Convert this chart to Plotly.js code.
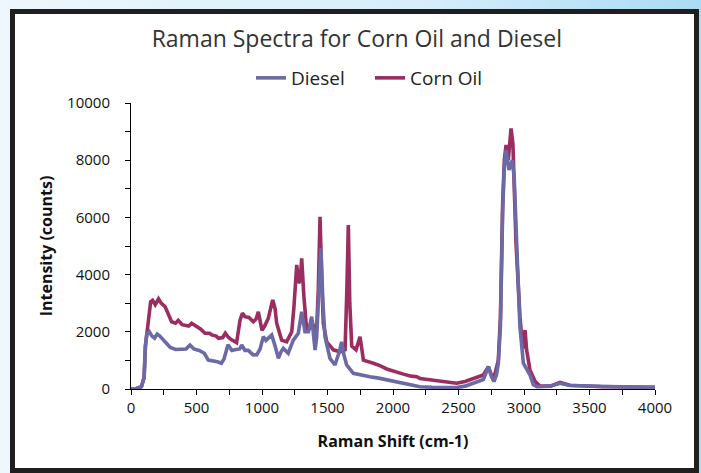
<!DOCTYPE html>
<html>
<head>
<meta charset="utf-8">
<script src="https://cdn.plot.ly/plotly-3.0.1.min.js"></script>
<style>
  html, body { margin: 0; padding: 0; }
  body { width: 701px; height: 473px; overflow: hidden;
         background: linear-gradient(to right, #eef7fc 0%, #d6eefa 60%, #a9dbf4 100%); }
  #chart { width: 701px; height: 473px; }
</style>
</head>
<body>
<div id="chart"></div>
<script>
// Raman shift (cm-1) and intensity (counts)
const dieselShift = [0, 40, 80, 100, 110, 120, 140, 160, 180, 200, 220, 260, 300, 340, 380, 420, 450, 480, 520, 560, 590, 630, 660, 690, 710, 740, 770, 800, 830, 845, 870, 895, 930, 960, 985, 1010, 1030, 1048, 1074, 1100, 1125, 1145, 1163, 1200, 1239, 1277, 1303, 1328, 1354, 1379, 1405, 1417, 1435, 1450, 1465, 1481, 1519, 1557, 1590, 1608, 1625, 1646, 1697, 1760, 1824, 1890, 1952, 2020, 2079, 2150, 2206, 2300, 2400, 2486, 2550, 2613, 2690, 2728, 2750, 2771, 2790, 2804, 2820, 2837, 2850, 2863, 2885, 2911, 2925, 2944, 2969, 2995, 3008, 3033, 3046, 3071, 3100, 3200, 3275, 3350, 3466, 3600, 3800, 4000];
const dieselCounts = [0, 20, 80, 400, 1500, 1900, 2000, 1850, 1780, 1920, 1850, 1650, 1450, 1380, 1380, 1400, 1540, 1400, 1350, 1250, 1010, 980, 950, 900, 1050, 1550, 1350, 1380, 1400, 1540, 1350, 1350, 1200, 1190, 1400, 1830, 1700, 1780, 1890, 1500, 1070, 1300, 1420, 1250, 1710, 1950, 2700, 2000, 2000, 2530, 1360, 1800, 3500, 4920, 3000, 1830, 1070, 840, 1300, 1650, 1200, 840, 550, 480, 430, 380, 320, 250, 200, 120, 80, 60, 50, 50, 100, 200, 330, 780, 450, 260, 500, 900, 2200, 6200, 7800, 8350, 7660, 8000, 7400, 5100, 2180, 900, 780, 550, 490, 150, 80, 100, 200, 120, 100, 80, 70, 60];

const cornShift = [0, 40, 80, 100, 110, 120, 135, 150, 165, 185, 210, 230, 260, 290, 310, 340, 361, 390, 412, 440, 463, 501, 530, 565, 600, 616, 650, 667, 700, 720, 745, 768, 806, 832, 850, 870, 900, 934, 955, 972, 990, 1000, 1020, 1048, 1070, 1082, 1100, 1112, 1150, 1188, 1227, 1244, 1265, 1280, 1292, 1303, 1320, 1341, 1360, 1379, 1400, 1417, 1430, 1443, 1458, 1468, 1494, 1545, 1595, 1634, 1648, 1659, 1670, 1685, 1718, 1735, 1748, 1762, 1774, 1850, 1900, 1952, 2000, 2079, 2140, 2181, 2206, 2280, 2359, 2420, 2486, 2550, 2613, 2690, 2728, 2766, 2804, 2820, 2837, 2850, 2863, 2880, 2901, 2915, 2939, 2969, 2990, 3008, 3020, 3046, 3084, 3122, 3200, 3275, 3350, 3466, 3600, 3800, 4000];
const cornCounts = [0, 20, 80, 400, 1500, 1950, 2500, 3050, 3100, 2950, 3150, 3000, 2880, 2600, 2350, 2300, 2400, 2250, 2240, 2200, 2300, 2180, 2100, 1950, 1950, 1890, 1850, 1770, 1800, 1950, 1800, 1720, 1620, 2400, 2650, 2530, 2500, 2350, 2450, 2700, 2200, 2050, 2200, 2470, 2900, 3110, 2800, 2300, 1710, 1650, 2000, 2880, 4340, 3700, 3800, 4570, 3230, 2050, 2100, 2400, 2100, 2050, 3500, 6020, 3500, 2300, 1650, 1370, 1300, 1370, 3500, 5730, 3000, 1500, 1370, 1600, 1830, 1400, 1010, 900, 820, 700, 620, 520, 450, 430, 370, 320, 260, 230, 200, 260, 360, 490, 780, 310, 1010, 2500, 6500, 8000, 8530, 8000, 9110, 8600, 5100, 2530, 1400, 2060, 1360, 660, 270, 100, 100, 230, 130, 100, 80, 70, 60];

const seriesNames = ["Diesel", "Corn Oil"];
const seriesColors = ["#6b6aa6", "#9c2d60"];

const FONT = "'Open Sans', 'DejaVu Sans', sans-serif";

// plot area in pixels: x 131..655, y 103..389
const L = 131, R = 655, T = 103, B = 389;
const px2x = p => (p - L) / (R - L);
const px2y = p => (B - p) / (B - T);

const traces = [
  { x: cornShift, y: cornCounts, name: seriesNames[1], type: "scatter", mode: "lines",
    line: { color: seriesColors[1], width: 3.6 }, legendrank: 2 },
  { x: dieselShift, y: dieselCounts, name: seriesNames[0], type: "scatter", mode: "lines",
    line: { color: seriesColors[0], width: 3.6 }, legendrank: 1 }
];

const layout = {
  width: 701, height: 473,
  paper_bgcolor: "rgba(0,0,0,0)", plot_bgcolor: "rgba(0,0,0,0)",
  margin: { l: L, r: 701 - R, t: T, b: 473 - B },
  font: { family: FONT, color: "#000" },
  title: { text: "Raman Spectra for Corn Oil and Diesel", font: { size: 23, color: "#333", family: FONT },
           x: 0.509, xref: "container", xanchor: "center", y: 0.918, yref: "container", yanchor: "middle" },
  showlegend: true,
  legend: { orientation: "h", x: px2x(251), xanchor: "left", y: px2y(78), yanchor: "middle",
            entrywidth: 74, entrywidthmode: "pixels",
            font: { size: 19, color: "#222", family: FONT }, bgcolor: "rgba(0,0,0,0)" },
  shapes: [
    { type: "rect", xref: "paper", yref: "paper", layer: "below",
      x0: px2x(12.5), x1: px2x(696.5), y0: px2y(470.5), y1: px2y(11.5),
      fillcolor: "#ffffff", line: { color: "#1f1f1f", width: 5 } }
  ],
  xaxis: {
    range: [0, 4000], autorange: false, dtick: 500, tick0: 0, tickformat: "d",
    showline: true, linecolor: "#000", linewidth: 1, mirror: false,
    showgrid: false, zeroline: false,
    ticks: "outside", ticklen: 5, tickcolor: "#000", tickwidth: 1,
    minor: { dtick: 250, ticks: "outside", ticklen: 5, tickcolor: "#000", tickwidth: 1, showgrid: false },
    tickfont: { size: 15, color: "#111" },
    title: { text: "<b>Raman Shift (cm-1)</b>", font: { size: 16, color: "#111" }, standoff: 19 },
    automargin: false
  },
  yaxis: {
    range: [0, 10000], autorange: false, dtick: 2000, tick0: 0, tickformat: "d",
    showline: true, linecolor: "#000", linewidth: 1,
    showgrid: false, zeroline: false,
    ticks: "outside", ticklen: 5, tickcolor: "#000", tickwidth: 1,
    ticklabelstandoff: 12,
    minor: { dtick: 1000, ticks: "outside", ticklen: 5, tickcolor: "#000", tickwidth: 1, showgrid: false },
    tickfont: { size: 15, color: "#111" },
    title: { text: "<b>Intensity (counts)</b>", font: { size: 16, color: "#111" }, standoff: 10 },
    automargin: false
  }
};

Plotly.newPlot("chart", traces, layout, { displayModeBar: false, staticPlot: true });
</script>
</body>
</html>
